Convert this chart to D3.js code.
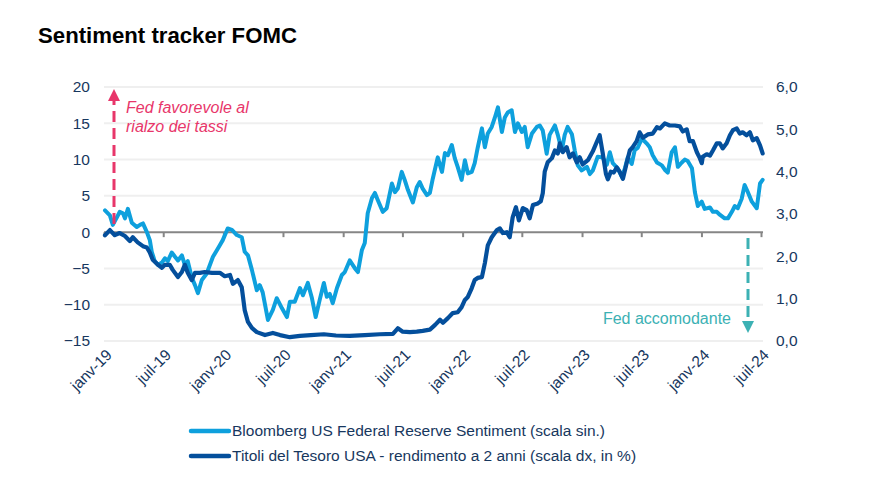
<!DOCTYPE html>
<html><head><meta charset="utf-8">
<script src="https://cdn.jsdelivr.net/npm/d3@7"></script>
<style>body{margin:0;background:#fff} text{font-family:"Liberation Sans",Arial,sans-serif}</style>
</head><body><svg id="c" width="873" height="488"></svg>
<script>
const sentimentDates = ["2019-01-04","2019-01-19","2019-01-28","2019-02-09","2019-02-18","2019-02-28","2019-03-06","2019-03-15","2019-03-27","2019-04-11","2019-04-21","2019-04-30","2019-05-12","2019-05-21","2019-05-27","2019-06-05","2019-06-15","2019-06-27","2019-07-06","2019-07-15","2019-07-27","2019-08-06","2019-08-15","2019-08-27","2019-09-05","2019-09-14","2019-09-26","2019-10-06","2019-10-15","2019-10-27","2019-11-11","2019-11-20","2019-11-30","2019-12-12","2019-12-21","2019-12-30","2020-01-14","2020-01-27","2020-02-11","2020-02-26","2020-03-06","2020-03-16","2020-03-28","2020-04-12","2020-04-21","2020-04-30","2020-05-16","2020-05-31","2020-06-12","2020-06-28","2020-07-13","2020-07-22","2020-08-06","2020-08-22","2020-08-31","2020-09-15","2020-09-27","2020-10-09","2020-10-22","2020-11-03","2020-11-12","2020-11-21","2020-11-30","2020-12-13","2020-12-28","2021-01-06","2021-01-21","2021-02-06","2021-02-15","2021-02-27","2021-03-08","2021-03-17","2021-03-30","2021-04-08","2021-04-17","2021-05-02","2021-05-14","2021-05-30","2021-06-08","2021-06-17","2021-06-29","2021-07-08","2021-07-18","2021-08-02","2021-08-14","2021-08-23","2021-09-01","2021-09-14","2021-09-23","2021-10-02","2021-10-17","2021-10-30","2021-11-08","2021-11-17","2021-11-29","2021-12-08","2021-12-17","2021-12-29","2022-01-08","2022-01-17","2022-01-29","2022-02-07","2022-02-16","2022-03-01","2022-03-10","2022-03-19","2022-03-31","2022-04-09","2022-04-19","2022-05-01","2022-05-10","2022-05-19","2022-05-31","2022-06-10","2022-06-19","2022-07-01","2022-07-10","2022-07-19","2022-08-01","2022-08-16","2022-08-25","2022-09-03","2022-09-15","2022-09-24","2022-10-10","2022-10-19","2022-10-31","2022-11-09","2022-11-18","2022-12-01","2022-12-10","2022-12-19","2022-12-31","2023-01-16","2023-01-25","2023-02-03","2023-02-18","2023-03-05","2023-03-18","2023-03-27","2023-04-05","2023-04-20","2023-05-03","2023-05-12","2023-05-21","2023-06-02","2023-06-11","2023-06-20","2023-07-03","2023-07-18","2023-07-27","2023-08-05","2023-08-18","2023-09-02","2023-09-11","2023-09-20","2023-10-02","2023-10-12","2023-10-21","2023-11-02","2023-11-11","2023-11-20","2023-12-03","2023-12-12","2023-12-21","2024-01-02","2024-01-11","2024-01-27","2024-02-05","2024-02-17","2024-02-26","2024-03-12","2024-03-22","2024-04-03","2024-04-12","2024-04-21","2024-05-03","2024-05-12","2024-05-21","2024-06-03","2024-06-18","2024-06-28","2024-07-06"];
const sentimentValues = [3.0,2.3,1.0,2.0,2.8,2.6,1.9,3.2,1.3,0.7,1.0,1.2,0.0,-1.1,-2.7,-4.0,-4.5,-4.2,-3.6,-4.0,-2.8,-3.4,-3.9,-3.2,-4.5,-4.0,-6.2,-7.3,-8.4,-6.6,-5.7,-4.6,-3.4,-2.5,-1.8,-1.1,0.5,0.3,-0.4,-0.7,-2.7,-3.2,-5.2,-8.0,-7.3,-8.3,-12.1,-10.7,-9.1,-10.5,-11.7,-9.6,-9.6,-7.7,-8.7,-7.0,-9.0,-11.7,-9.2,-7.0,-8.9,-8.5,-9.8,-7.7,-5.9,-5.5,-3.9,-5.0,-5.5,-2.5,-1.5,2.6,4.7,5.4,4.4,2.8,3.3,6.7,5.5,6.0,8.3,7.2,5.8,4.1,6.2,6.9,6.0,5.1,5.4,7.4,10.3,8.3,10.9,10.6,12.0,10.2,9.0,7.2,9.9,8.1,8.3,9.5,11.6,14.3,11.7,13.6,14.5,15.7,17.2,13.8,15.8,16.5,16.8,13.8,15.0,13.8,14.5,11.7,13.6,14.5,14.7,14.0,10.8,13.4,14.7,13.4,11.2,13.4,14.5,13.5,11.2,9.2,8.5,9.0,8.0,8.5,10.4,10.3,9.3,11.0,9.5,8.8,7.6,8.8,10.3,9.4,11.3,11.6,12.9,12.2,11.7,10.6,9.6,9.2,8.6,8.2,11.0,11.7,9.0,9.6,10.0,9.8,8.8,5.5,3.6,4.2,3.2,3.4,2.8,2.8,2.4,1.9,1.9,2.8,3.6,3.3,4.6,6.5,5.6,4.2,3.3,6.7,7.2];

const yieldDates = ["2019-01-04","2019-01-19","2019-02-03","2019-02-18","2019-03-06","2019-03-21","2019-03-30","2019-04-14","2019-04-30","2019-05-12","2019-05-21","2019-05-30","2019-06-15","2019-06-27","2019-07-06","2019-07-21","2019-07-30","2019-08-15","2019-08-27","2019-09-05","2019-09-14","2019-09-26","2019-10-06","2019-10-21","2019-11-05","2019-11-27","2019-12-21","2020-01-05","2020-01-21","2020-01-30","2020-02-14","2020-02-26","2020-03-06","2020-03-16","2020-03-28","2020-04-12","2020-05-07","2020-05-31","2020-06-22","2020-07-22","2020-08-22","2020-09-24","2020-11-03","2020-12-10","2021-01-21","2021-03-08","2021-04-23","2021-06-02","2021-06-17","2021-07-02","2021-07-24","2021-08-14","2021-09-01","2021-09-23","2021-10-09","2021-10-24","2021-11-02","2021-11-17","2021-12-02","2021-12-17","2021-12-29","2022-01-08","2022-01-17","2022-01-29","2022-02-07","2022-02-16","2022-03-01","2022-03-10","2022-03-19","2022-03-31","2022-04-16","2022-04-25","2022-05-04","2022-05-16","2022-05-25","2022-06-03","2022-06-13","2022-06-22","2022-07-04","2022-07-16","2022-07-25","2022-08-04","2022-08-19","2022-08-28","2022-09-03","2022-09-09","2022-09-18","2022-10-01","2022-10-10","2022-10-19","2022-10-25","2022-11-03","2022-11-15","2022-11-24","2022-12-04","2022-12-16","2022-12-25","2023-01-03","2023-01-19","2023-02-03","2023-02-15","2023-02-24","2023-03-05","2023-03-15","2023-03-21","2023-03-30","2023-04-08","2023-04-17","2023-04-26","2023-05-06","2023-05-18","2023-05-27","2023-06-05","2023-06-17","2023-06-26","2023-07-06","2023-07-21","2023-08-05","2023-08-18","2023-08-27","2023-09-11","2023-09-26","2023-10-12","2023-10-27","2023-11-05","2023-11-17","2023-11-26","2023-12-06","2023-12-18","2023-12-27","2024-01-02","2024-01-05","2024-01-17","2024-01-27","2024-02-05","2024-02-17","2024-02-26","2024-03-06","2024-03-18","2024-03-28","2024-04-06","2024-04-18","2024-04-27","2024-05-06","2024-05-18","2024-05-28","2024-06-06","2024-06-18","2024-06-28","2024-07-06"];
const yieldValues = [2.50,2.62,2.50,2.55,2.48,2.36,2.45,2.33,2.24,2.21,2.09,1.92,1.80,1.73,1.80,1.80,1.68,1.51,1.63,1.80,1.61,1.44,1.61,1.61,1.63,1.61,1.61,1.53,1.56,1.35,1.44,1.27,0.73,0.45,0.31,0.21,0.14,0.19,0.14,0.09,0.12,0.14,0.16,0.13,0.12,0.14,0.16,0.17,0.30,0.22,0.21,0.22,0.24,0.27,0.38,0.50,0.43,0.54,0.66,0.68,0.80,0.97,1.04,1.25,1.44,1.49,1.51,1.84,2.26,2.45,2.62,2.66,2.55,2.57,2.45,2.92,3.16,2.85,3.14,3.09,2.90,3.21,3.25,3.30,3.49,4.00,4.22,4.32,4.50,4.43,4.67,4.46,4.58,4.34,4.43,4.22,4.34,4.17,4.27,4.48,4.70,4.86,4.45,3.95,3.82,4.00,3.98,4.10,4.00,3.83,4.22,4.50,4.58,4.72,4.93,4.80,4.88,4.90,5.05,5.02,5.14,5.09,5.09,5.07,4.95,5.00,4.72,4.72,4.46,4.32,4.20,4.35,4.41,4.38,4.50,4.67,4.67,4.55,4.67,4.86,4.98,5.02,4.90,4.93,4.86,4.93,4.74,4.79,4.62,4.43];

const leftTicks = [-15,-10,-5,0,5,10,15,20];
const rightTicks = [0,1,2,3,4,5,6];
const xTickDates = ["2019-01-01","2019-07-01","2020-01-01","2020-07-01","2021-01-01","2021-07-01","2022-01-01","2022-07-01","2023-01-01","2023-07-01","2024-01-01","2024-07-01"];
const xTickLabels = ["janv-19","juil-19","janv-20","juil-20","janv-21","juil-21","janv-22","juil-22","janv-23","juil-23","janv-24","juil-24"];
const seriesNames = ["Bloomberg US Federal Reserve Sentiment (scala sin.)","Titoli del Tesoro USA - rendimento a 2 anni (scala dx, in %)"];
const titleText = "Sentiment tracker FOMC";
const upNote = ["Fed favorevole al","rialzo dei tassi"];
const downNote = "Fed accomodante";

const parse = d3.timeParse("%Y-%m-%d");
const C_LIGHT = "#0ea0dd", C_DARK = "#044f9c", C_TXT = "#17375e";
const C_RED = "#e8366a", C_TEAL = "#3cb1b4";
const FS = 15.5;

const svg = d3.select("#c");
const x = d3.scaleTime().domain([parse("2019-01-01"), parse("2024-07-01")]).range([104, 761]);
const yL = d3.scaleLinear().domain([-15, 20]).range([341, 87]);
const yR = d3.scaleLinear().domain([0, 6]).range([341, 87]);
const gridX0 = 104, gridX1 = 763;

svg.append("text").attr("x", 38).attr("y", 43).attr("font-size", 22.2).attr("font-weight", "bold")
  .attr("fill", "#000").text(titleText);

// gridlines
svg.append("g").selectAll("line").data(leftTicks.filter(t => t !== 0)).join("line")
  .attr("x1", gridX0).attr("x2", gridX1).attr("y1", d => yL(d)).attr("y2", d => yL(d))
  .attr("stroke", "#efefef").attr("stroke-width", 2);

// left axis labels
const gl = svg.append("g").attr("transform", "translate(90,0)")
  .call(d3.axisLeft(yL).tickValues(leftTicks).tickSize(0).tickPadding(0).tickFormat(d3.format("d")));
gl.select(".domain").remove();
gl.selectAll("text").attr("font-size", FS).attr("fill", C_TXT).attr("font-family", "Liberation Sans, Arial, sans-serif");

// right axis labels
const fmtR = v => d3.format(".1f")(v).replace(".", ",");
const gr = svg.append("g").attr("transform", "translate(776,0)")
  .call(d3.axisRight(yR).tickValues(rightTicks).tickSize(0).tickPadding(0).tickFormat(fmtR));
gr.select(".domain").remove();
gr.selectAll("text").attr("font-size", FS).attr("fill", C_TXT).attr("font-family", "Liberation Sans, Arial, sans-serif");

// zero axis with ticks
const gx = svg.append("g").attr("transform", `translate(0,${yL(0)})`)
  .call(d3.axisBottom(x).tickValues(xTickDates.map(parse)).tickSize(5).tickFormat(""));
gx.select(".domain").attr("d", `M${gridX0},0H${gridX1}`).attr("stroke", "#868686").attr("stroke-width", 2);
gx.selectAll(".tick line").attr("stroke", "#868686").attr("stroke-width", 2);

// x labels at bottom
svg.append("g").selectAll("text").data(xTickDates).join("text")
  .attr("transform", (d) => `translate(${x(parse(d)) + 5},${352}) rotate(-45)`)
  .attr("text-anchor", "end").attr("dy", "0.35em").attr("font-size", FS).attr("fill", C_TXT)
  .text((d, i) => xTickLabels[i]);

// lines
const sentData = sentimentDates.map((d, i) => ({ t: parse(d), v: sentimentValues[i] }));
const yldData = yieldDates.map((d, i) => ({ t: parse(d), v: yieldValues[i] }));
svg.append("path").datum(sentData).attr("fill", "none").attr("stroke", C_LIGHT).attr("stroke-width", 4)
  .attr("stroke-linejoin", "round").attr("stroke-linecap", "round")
  .attr("d", d3.line().x(d => x(d.t)).y(d => yL(d.v)));
svg.append("path").datum(yldData).attr("fill", "none").attr("stroke", C_DARK).attr("stroke-width", 4.2)
  .attr("stroke-linejoin", "round").attr("stroke-linecap", "round")
  .attr("d", d3.line().x(d => x(d.t)).y(d => yR(d.v)));

// annotations: up arrow
svg.append("line").attr("x1", 114).attr("x2", 114).attr("y1", 224).attr("y2", 101)
  .attr("stroke", C_RED).attr("stroke-width", 3).attr("stroke-dasharray", "11,6");
svg.append("path").attr("d", "M108,101L114,89L120,101Z").attr("fill", C_RED);
svg.append("text").attr("x", 126).attr("y", 113).attr("font-size", 16).attr("font-style", "italic")
  .attr("fill", C_RED).text(upNote[0]);
svg.append("text").attr("x", 126).attr("y", 132).attr("font-size", 16).attr("font-style", "italic")
  .attr("fill", C_RED).text(upNote[1]);
// down arrow
svg.append("line").attr("x1", 748).attr("x2", 748).attr("y1", 238).attr("y2", 321)
  .attr("stroke", C_TEAL).attr("stroke-width", 3).attr("stroke-dasharray", "11,6");
svg.append("path").attr("d", "M742,321L748,333L754,321Z").attr("fill", C_TEAL);
svg.append("text").attr("x", 731).attr("y", 324).attr("font-size", 16).attr("text-anchor", "end")
  .attr("fill", C_TEAL).text(downNote);

// legend
const leg = svg.append("g");
[[C_LIGHT, 431], [C_DARK, 456]].forEach(([c, y], i) => {
  leg.append("line").attr("x1", 191).attr("x2", 229).attr("y1", y).attr("y2", y)
    .attr("stroke", c).attr("stroke-width", 4.5).attr("stroke-linecap", "round");
  leg.append("text").attr("x", 232).attr("y", y).attr("dy", "0.35em").attr("font-size", FS)
    .attr("fill", C_TXT).text(seriesNames[i]);
});
</script></body></html>
